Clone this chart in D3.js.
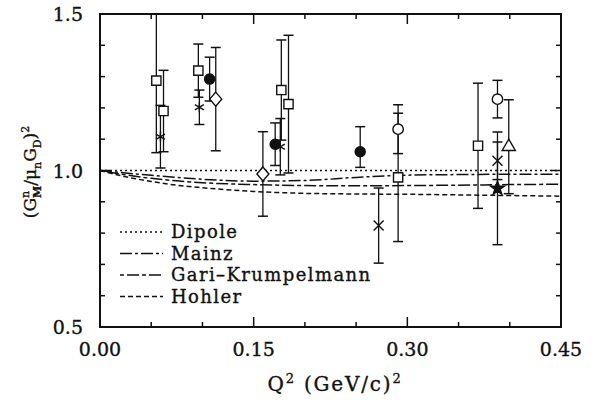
<!DOCTYPE html>
<html>
<head>
<meta charset="utf-8">
<script src="https://cdn.jsdelivr.net/npm/d3@7"></script>
<style>
  body { margin: 0; background: #fff; }
  svg text { font-family: "DejaVu Serif", serif; fill: #111; stroke: #111; stroke-width: 0.35px; }
</style>
</head>
<body>
<svg id="chart" width="597" height="400"></svg>
<script>
// theory curves, ratio to dipole
const curveQ2 = [0, 0.025, 0.05, 0.075, 0.10, 0.15, 0.20, 0.25, 0.30, 0.35, 0.40, 0.45];
const dipole  = [1, 1, 1, 1, 1, 1, 1, 1, 1, 1, 1, 1];
const mainz   = [1, 0.992, 0.985, 0.978, 0.972, 0.966, 0.968, 0.978, 0.985, 0.987, 0.988, 0.988];
const gari    = [1, 0.986, 0.975, 0.967, 0.961, 0.955, 0.952, 0.951, 0.952, 0.953, 0.955, 0.956];
const hohler  = [1, 0.980, 0.965, 0.953, 0.945, 0.933, 0.927, 0.925, 0.924, 0.922, 0.920, 0.918];

// measured points
const pointQ2     = [0.055, 0.062, 0.059, 0.096, 0.097, 0.107, 0.113, 0.159, 0.171, 0.176, 0.177, 0.184, 0.254, 0.272, 0.291, 0.291, 0.369, 0.388, 0.388, 0.388, 0.399];
const pointRatio  = [1.287, 1.190, 1.108, 1.319, 1.202, 1.292, 1.228, 0.989, 1.084, 1.076, 1.257, 1.212, 1.060, 0.824, 1.132, 0.978, 1.079, 1.228, 1.031, 0.943, 1.076];
const pointErrHi  = [0.230, 0.130, 0.100, 0.085, 0.055, 0.070, 0.165, 0.135, 0.068, 0.090, 0.160, 0.220, 0.080, 0.120, 0.078, 0.205, 0.200, 0.060, 0.060, 0.180, 0.150];
const pointErrLo  = [0.230, 0.130, 0.100, 0.085, 0.055, 0.070, 0.165, 0.135, 0.068, 0.090, 0.160, 0.220, 0.050, 0.120, 0.078, 0.205, 0.200, 0.060, 0.060, 0.180, 0.150];
const pointMarker = ["square", "square", "asterisk", "square", "asterisk", "dot", "diamond", "diamond", "dot", "asterisk", "square", "square", "dot", "cross", "circle", "square", "square", "circle", "cross", "star", "triangle"];

const legendNames = ["Dipole", "Mainz", "Gari\u2013Krumpelmann", "Hohler"];
const legendDash  = ["2,3", "12,3,3,3", "4,3,12,3", "5,3"];

const xTicks = [0, 0.05, 0.10, 0.15, 0.20, 0.25, 0.30, 0.35, 0.40, 0.45];
const xLabels = [0, 0.15, 0.30, 0.45];
const yTicks = [0.5, 0.6, 0.7, 0.8, 0.9, 1.0, 1.1, 1.2, 1.3, 1.4, 1.5];
const yLabels = [0.5, 1.0, 1.5];

const svg = d3.select("#chart");
const pLeft = 100, pRight = 561, pTop = 14, pBottom = 327;

const x = d3.scaleLinear().domain([0, 0.45]).range([pLeft, pRight]);
const y = d3.scaleLinear().domain([0.5, 1.5]).range([pBottom, pTop]);

svg.append("clipPath").attr("id", "plotclip")
  .append("rect")
  .attr("x", pLeft).attr("y", pTop)
  .attr("width", pRight - pLeft).attr("height", pBottom - pTop);

const plot = svg.append("g").attr("clip-path", "url(#plotclip)");

// curves
const line = d3.line()
  .x((d, i) => x(curveQ2[i]))
  .y(d => y(d))
  .curve(d3.curveMonotoneX);

[dipole, mainz, gari, hohler].forEach(function(series, k) {
  plot.append("path")
    .attr("d", line(series))
    .attr("fill", "none")
    .attr("stroke", "#111")
    .attr("stroke-width", k === 0 ? 1.6 : 1.5)
    .attr("stroke-dasharray", legendDash[k]);
});

// error bars
const capW = 5;
pointQ2.forEach(function(q, i) {
  let px = x(q);
  let yHi = y(pointRatio[i] + pointErrHi[i]);
  let yLo = y(pointRatio[i] - pointErrLo[i]);
  plot.append("line")
    .attr("x1", px).attr("x2", px)
    .attr("y1", yHi).attr("y2", yLo)
    .attr("stroke", "#111").attr("stroke-width", 1.3);
  [yHi, yLo].forEach(function(yy) {
    plot.append("line")
      .attr("x1", px - capW).attr("x2", px + capW)
      .attr("y1", yy).attr("y2", yy)
      .attr("stroke", "#111").attr("stroke-width", 1.5);
  });
});

// markers
const sym = {
  square: d3.symbol().type(d3.symbolSquare).size(85)(),
  dot: d3.symbol().type(d3.symbolCircle).size(80)(),
  circle: d3.symbol().type(d3.symbolCircle).size(85)(),
  diamond: "M0,-7L6,0L0,7L-6,0Z",
  triangle: d3.symbol().type(d3.symbolTriangle).size(75)(),
  star: d3.symbol().type(d3.symbolStar).size(60)(),
  cross: "M-5,-5L5,5M-5,5L5,-5",
  asterisk: "M0,-5L0,5M-4.5,-2.6L4.5,2.6M-4.5,2.6L4.5,-2.6"
};

pointQ2.forEach(function(q, i) {
  let m = pointMarker[i];
  let filled = (m === "dot" || m === "star");
  let open = (m === "cross" || m === "asterisk");
  plot.append("path")
    .attr("d", sym[m])
    .attr("transform", "translate(" + x(q) + "," + y(pointRatio[i]) + ")")
    .attr("fill", filled ? "#111" : (open ? "none" : "#fff"))
    .attr("stroke", "#111")
    .attr("stroke-width", 1.4);
});

// frame and ticks
svg.append("rect")
  .attr("x", pLeft).attr("y", pTop)
  .attr("width", pRight - pLeft).attr("height", pBottom - pTop)
  .attr("fill", "none").attr("stroke", "#111").attr("stroke-width", 2);

xTicks.forEach(function(t) {
  let len = xLabels.some(l => Math.abs(l - t) < 1e-9) ? 10 : 5;
  svg.append("line").attr("x1", x(t)).attr("x2", x(t))
    .attr("y1", pBottom).attr("y2", pBottom - len)
    .attr("stroke", "#111").attr("stroke-width", 1.5);
  svg.append("line").attr("x1", x(t)).attr("x2", x(t))
    .attr("y1", pTop).attr("y2", pTop + len)
    .attr("stroke", "#111").attr("stroke-width", 1.5);
});

yTicks.forEach(function(t) {
  let len = yLabels.some(l => Math.abs(l - t) < 1e-9) ? 10 : 5;
  svg.append("line").attr("x1", pLeft).attr("x2", pLeft + len)
    .attr("y1", y(t)).attr("y2", y(t))
    .attr("stroke", "#111").attr("stroke-width", 1.5);
  svg.append("line").attr("x1", pRight).attr("x2", pRight - len)
    .attr("y1", y(t)).attr("y2", y(t))
    .attr("stroke", "#111").attr("stroke-width", 1.5);
});

svg.selectAll(".xlab")
  .data(xLabels)
  .enter().append("text")
  .attr("class", "xlab")
  .attr("x", d => x(d))
  .attr("y", 356)
  .attr("text-anchor", "middle")
  .attr("font-size", 19)
  .text(d => d3.format(".2f")(d));

svg.selectAll(".ylab")
  .data(yLabels)
  .enter().append("text")
  .attr("class", "ylab")
  .attr("x", 83)
  .attr("y", d => y(d) + 7)
  .attr("text-anchor", "end")
  .attr("font-size", 19)
  .text(d => d3.format(".1f")(d));

// axis titles
let xt = svg.append("text")
  .attr("x", 335).attr("y", 391)
  .attr("text-anchor", "middle")
  .attr("letter-spacing", 1.8)
  .attr("font-size", 20);
xt.append("tspan").text("Q");
xt.append("tspan").attr("font-size", 13).attr("dy", -8).text("2");
xt.append("tspan").attr("dy", 8).text(" (GeV/c)");
xt.append("tspan").attr("font-size", 13).attr("dy", -8).text("2");

let yt = svg.append("text")
  .attr("transform", "translate(36,172) rotate(-90)")
  .attr("text-anchor", "middle")
  .attr("font-size", 17);
yt.append("tspan").text("(G");
yt.append("tspan").attr("font-size", 11).attr("dy", -7).text("n");
yt.append("tspan").attr("font-size", 11).attr("font-weight", "bold").attr("dx", -7).attr("dy", 12).text("M");
yt.append("tspan").attr("dy", -5).text("/\u03bc");
yt.append("tspan").attr("font-size", 11).attr("dy", 5).text("n");
yt.append("tspan").attr("dy", -5).text("G");
yt.append("tspan").attr("font-size", 11).attr("dy", 5).text("D");
yt.append("tspan").attr("dy", -5).text(")");
yt.append("tspan").attr("font-size", 11).attr("dy", -7).text("2");

// legend
const legend = svg.append("g");
legendNames.forEach(function(name, k) {
  let ly = 232 + k * 21.5;
  legend.append("line")
    .attr("x1", 120).attr("x2", 163)
    .attr("y1", ly).attr("y2", ly)
    .attr("stroke", "#111").attr("stroke-width", 1.5)
    .attr("stroke-dasharray", legendDash[k]);
  legend.append("text")
    .attr("x", 171).attr("y", ly + 6)
    .attr("font-size", 18)
    .attr("letter-spacing", 1.4)
    .text(name);
});
</script>
</body>
</html>
